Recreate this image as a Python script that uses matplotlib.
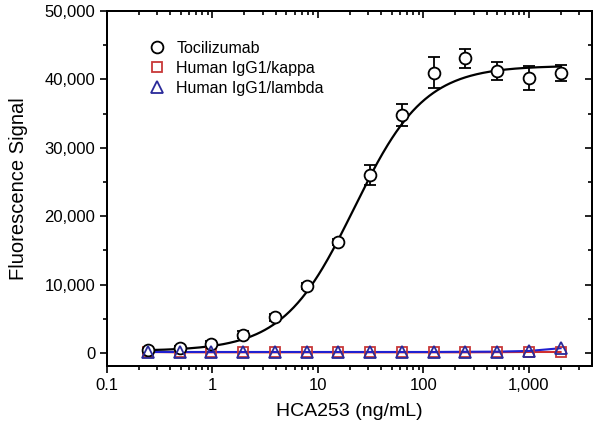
import numpy as np
import matplotlib
matplotlib.use("Agg")
import matplotlib.pyplot as plt
from matplotlib.lines import Line2D
from matplotlib.ticker import FuncFormatter, LogLocator, MultipleLocator, NullFormatter

plt.rcParams['font.family'] = ['Liberation Sans', 'DejaVu Sans']

conc = [0.244, 0.488, 0.977, 1.95, 3.9, 7.8, 15.6, 31.25, 62.5, 125, 250, 500, 1000, 2000]
toci = [400, 700, 1300, 2700, 5200, 9800, 16200, 26000, 34800, 41000, 43100, 41200, 40200, 40900]
toci_err = [300, 350, 500, 500, 500, 400, 400, 1500, 1600, 2300, 1400, 1300, 1800, 1200]
kappa = [150, 100, 100, 100, 100, 100, 100, 100, 100, 100, 100, 120, 150, 150]
lam = [150, 150, 150, 150, 150, 150, 150, 150, 150, 150, 180, 200, 300, 700]

# 4PL fit parameters for Tocilizumab
bottom, top, ec50, hill = 300, 42000, 22.0, 1.3

XLIM = (0.1, 3970)
YLIM = (-1900, 50000)

fig = plt.figure(figsize=(6, 4.28), dpi=100)
ax = fig.add_axes([107/600, 1-366/428, (592-107)/600, (366-11)/428])

xf = np.logspace(np.log10(0.244), np.log10(2000), 400)
yf = bottom + (top - bottom) / (1 + (ec50 / xf) ** hill)
ax.plot(xf, yf, color='black', lw=1.6, zorder=2)

ax.plot(conc, kappa, color='#d03030', lw=1.5, zorder=2)
ax.plot(conc, lam, color='#2020d0', lw=1.5, zorder=3)

ax.errorbar(conc, toci, yerr=toci_err, fmt='o', mfc='white', mec='black', ms=8.5,
            mew=1.3, ecolor='black', elinewidth=1.3, capsize=4, capthick=1.3, zorder=4)
ax.plot(conc, kappa, 's', mfc='none', mec='#c83838', ms=7.5, mew=1.3, ls='none', zorder=4)
ax.plot(conc, lam, '^', mfc='none', mec='#2a2a9a', ms=8.5, mew=1.3, ls='none', zorder=5)

ax.set_xscale('log')
ax.set_xlim(*XLIM)
ax.set_ylim(*YLIM)

def setup_x(a):
    a.xaxis.set_major_locator(LogLocator(base=10, numticks=10))
    a.xaxis.set_minor_locator(LogLocator(base=10, subs=np.arange(2, 10), numticks=10))

def setup_y(a):
    a.yaxis.set_major_locator(MultipleLocator(10000))
    a.yaxis.set_minor_locator(MultipleLocator(5000))

setup_x(ax)
setup_y(ax)
ax.xaxis.set_major_formatter(FuncFormatter(lambda v, p: f'{v:,.0f}' if v >= 1 else f'{v:g}'))
ax.yaxis.set_major_formatter(FuncFormatter(lambda v, p: f'{v:,.0f}'))

ax.tick_params(which='both', labelsize=12, width=1.2, colors='black')
ax.tick_params(which='major', length=5)
ax.tick_params(which='minor', length=3)
for s in ax.spines.values():
    s.set_linewidth(1.3)

# mirrored inward ticks on top and right
axt = ax.twiny()
axt.set_xscale('log')
axt.set_xlim(*XLIM)
setup_x(axt)
axt.xaxis.set_major_formatter(NullFormatter())
axt.xaxis.set_minor_formatter(NullFormatter())
axt.tick_params(which='both', direction='in', width=1.2, top=True, bottom=False, labeltop=False)
axt.tick_params(which='major', length=5)
axt.tick_params(which='minor', length=3)

axr = ax.twinx()
axr.set_ylim(*YLIM)
setup_y(axr)
axr.yaxis.set_major_formatter(NullFormatter())
axr.tick_params(which='both', direction='in', width=1.2, right=True, left=False, labelright=False)
axr.tick_params(which='major', length=5)
axr.tick_params(which='minor', length=3)
for a in (axt, axr):
    for s in a.spines.values():
        s.set_linewidth(1.3)

ax.set_xlabel('HCA253 (ng/mL)', fontsize=14, labelpad=7)
ax.set_ylabel('Fluorescence Signal', fontsize=14.5, labelpad=12)

handles = [
    Line2D([], [], marker='o', ls='none', mfc='none', mec='black', ms=8.5, mew=1.3),
    Line2D([], [], marker='s', ls='none', mfc='none', mec='#c83838', ms=7.5, mew=1.3),
    Line2D([], [], marker='^', ls='none', mfc='none', mec='#2a2a9a', ms=8.5, mew=1.3),
]
labels = ['Tocilizumab', 'Human IgG1/kappa', 'Human IgG1/lambda']
axr.legend(handles, labels, loc='upper left', bbox_to_anchor=(0.054, 0.956), frameon=False,
           fontsize=11.5, handletextpad=0.6, labelspacing=0.3, handlelength=1.2)

fig.savefig('out.png', dpi=100)
